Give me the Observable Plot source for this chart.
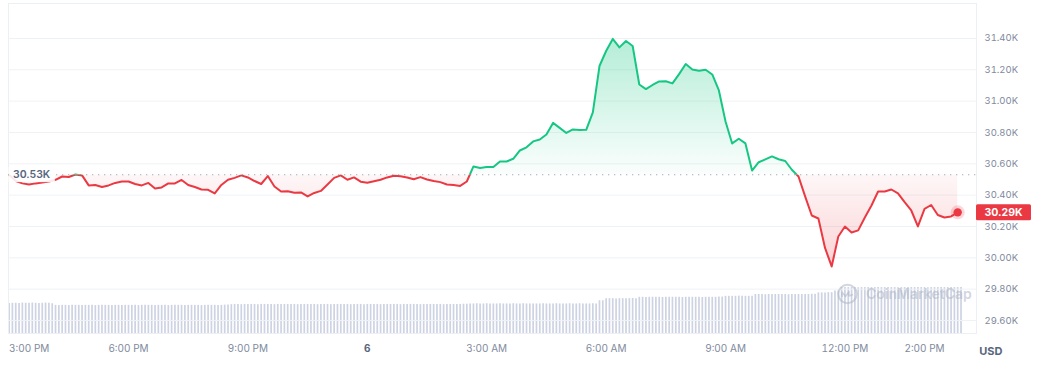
<!DOCTYPE html>
<html><head><meta charset="utf-8">
<script src="https://cdn.jsdelivr.net/npm/d3@7"></script>
<script src="https://cdn.jsdelivr.net/npm/@observablehq/plot@0.6"></script>
<style>
body{margin:0;background:#fff;font-family:Inter,"Noto Sans",sans-serif;}
#chart{position:relative;width:1048px;height:376px;overflow:hidden;}
#chart svg{position:absolute;left:0;top:0;}
</style></head><body><div id="chart"></div>
<script>
// ---- data ----
const startTime = new Date(2023, 6, 5, 15, 0);   // 3:00 PM
const priceStepMin = 10;
const prices = [
30530,30490,30475,30468,30475,30481,30487,30498,30519,30516,30532,30526,
30462,30465,30452,30462,30478,30487,30487,30471,30462,30478,30443,30449,
30475,30475,30497,30465,30452,30436,30434,30411,30465,30498,30510,30526,
30513,30490,30471,30522,30455,30423,30425,30415,30417,30392,30414,30427,
30468,30510,30526,30498,30513,30486,30479,30489,30498,30513,30524,30521,
30513,30501,30515,30500,30490,30483,30468,30465,30459,30487,30583,30573,
30580,30579,30615,30615,30632,30685,30705,30743,30755,30787,30861,30829,
30797,30819,30816,30817,30928,31224,31320,31397,31343,31384,31352,31106,
31077,31103,31126,31127,31113,31172,31237,31202,31194,31200,31170,31068,
30870,30730,30760,30730,30557,30610,30628,30647,30629,30618,30562,30519,
30392,30270,30251,30063,29945,30136,30200,30162,30175,30257,30334,30423,
30423,30436,30411,30355,30302,30200,30312,30337,30273,30257,30264,30290
];
const volumeStepMin = 5;
const volumes = [ // 24h volume, billions USD
13.0,13.1,13.1,13.0,13.2,13.1,13.1,13.2,13.1,13.0,13.1,13.2,13.1,12.9,
12.2,12.1,12.2,12.2,12.1,12.2,12.2,12.2,12.1,12.2,12.2,12.2,12.1,12.2,12.2,12.2,12.2,12.1,
12.2,12.2,12.1,12.2,12.2,12.2,12.2,12.1,12.2,12.2,12.2,12.2,12.1,12.2,12.2,12.2,12.1,12.2,
12.2,12.2,12.2,12.1,12.2,12.2,12.2,12.2,12.1,12.2,12.2,12.2,12.2,12.1,12.2,12.3,12.4,12.5,
12.6,12.6,12.5,12.6,12.6,12.6,12.6,12.5,12.6,12.6,12.6,12.6,12.5,12.6,12.6,12.6,12.6,12.6,
12.6,12.5,12.6,12.6,12.6,12.6,12.6,12.5,12.6,12.6,12.6,12.5,12.6,12.6,12.6,12.6,12.6,12.5,
12.6,12.6,12.6,12.5,12.6,12.6,12.6,12.6,12.5,12.6,12.6,12.6,12.6,12.6,12.5,12.6,12.6,12.6,
12.6,12.6,12.5,12.6,12.6,12.6,12.6,12.6,12.6,12.5,12.6,12.6,12.6,12.6,12.6,12.7,12.7,12.8,
12.8,12.9,12.8,12.8,12.9,12.8,12.8,12.8,12.9,12.8,12.8,12.8,12.9,12.8,12.8,12.9,12.8,12.8,12.8,
12.8,12.8,12.9,12.8,12.8,12.8,12.9,12.8,12.8,12.8,12.9,12.8,12.8,12.9,12.8,12.8,12.8,12.9,12.8,
14.2,14.2,
15.1,15.1,15.1,15.0,15.1,15.1,15.1,15.1,15.2,15.1,
15.7,15.7,15.6,15.7,15.7,15.7,15.7,15.6,15.7,15.7,15.7,15.7,15.7,
15.6,15.7,15.7,15.7,15.7,15.7,15.6,15.7,15.7,15.7,15.7,15.8,15.8,
16.1,16.1,16.1,16.1,16.2,16.1,16.1,16.1,16.1,
16.9,16.9,16.9,16.8,16.9,16.9,16.9,16.9,16.9,16.9,16.8,16.9,16.9,16.9,16.9,16.9,16.9,17.0,17.0,
17.6,17.6,17.6,17.7,17.7,
18.4,18.4,
19.9,19.9,19.9,19.9,19.9,19.8,19.9,19.9,19.9,19.9,19.9,19.9,19.9,19.9,19.9,19.9,19.9,19.8,19.9,
19.9,19.9,19.9,19.9,19.9,19.9,19.9,19.8,19.9,19.9,19.9,19.9,19.9,19.9,19.9,19.9,19.9,19.9
];
const referencePrice = 30530;
const yTicks = [29600, 29800, 30000, 30200, 30400, 30600, 30800, 31000, 31200, 31400];
const xTickTimes = [
  new Date(2023,6,5,15), new Date(2023,6,5,18), new Date(2023,6,5,21), new Date(2023,6,6,0),
  new Date(2023,6,6,3), new Date(2023,6,6,6), new Date(2023,6,6,9), new Date(2023,6,6,12), new Date(2023,6,6,14)
];
const xTickLabels = ["3:00 PM","6:00 PM","9:00 PM","6","3:00 AM","6:00 AM","9:00 AM","12:00 PM","2:00 PM"];
const currency = "USD";
const watermark = "CoinMarketCap";

// ---- build ----
const GREEN = "#16c784", RED = "#ea3943", GREY = "#808a9d", SLATE = "#58667e";
const fmtK = d => (d / 1000).toFixed(2) + "K";
const priceData = prices.map((price, i) => ({time: new Date(+startTime + i * priceStepMin * 60000), price}));
const volumeData = volumes.map((vol, i) => ({time: new Date(+startTime + i * volumeStepMin * 60000), vol}));
const lastPrice = prices[prices.length - 1];
const xDomain = [new Date(+startTime - 54000), new Date(+startTime + 87500000)];
const xLabel = d => xTickLabels[xTickTimes.findIndex(t => +t === +d)];

const common = {
  width: 1048, height: 376, marginLeft: 8, marginRight: 72, marginTop: 3, marginBottom: 43,
  style: {fontFamily: "Inter, 'Noto Sans', sans-serif", fontSize: "10px", background: "transparent", overflow: "visible"}
};

const volPlot = Plot.plot({
  ...common,
  x: {type: "time", domain: xDomain, axis: null},
  y: {domain: [0, 143], axis: null},
  marks: [
    Plot.ruleX(volumeData, {x: "time", y1: 0, y2: "vol", stroke: "#cdd3e2", strokeWidth: 1.7})
  ]
});

const mainPlot = Plot.plot({
  ...common,
  x: {type: "time", domain: xDomain, label: null},
  y: {domain: [29517, 31623], label: null},
  marks: [
    Plot.frame({stroke: "#eceff3"}),
    Plot.gridY(yTicks, {stroke: "#eff2f5", strokeOpacity: 1}),
    Plot.areaY(priceData, {x: "time", y1: () => referencePrice, y2: "price", fill: "url(#gradGreen)"}),
    Plot.areaY(priceData, {x: "time", y1: () => referencePrice, y2: "price", fill: "url(#gradRed)"}),
    Plot.ruleY([referencePrice], {stroke: "#a6acbd", strokeWidth: 1.2, strokeDasharray: "1.3,4.7"}),
    Plot.lineY(priceData, {x: "time", y: "price", stroke: GREEN, strokeWidth: 2}),
    Plot.lineY(priceData, {x: "time", y: "price", stroke: RED, strokeWidth: 2}),
    Plot.dot([priceData[priceData.length - 1]], {x: "time", y: "price", r: 7, fill: RED, fillOpacity: 0.2}),
    Plot.dot([priceData[priceData.length - 1]], {x: "time", y: "price", r: 4.2, fill: RED}),
    Plot.axisY(yTicks, {anchor: "right", label: null, tickSize: 0, tickPadding: 8, tickFormat: fmtK, fill: GREY, fontSize: 9.5}),
    Plot.axisX([xTickTimes[0]], {label: null, tickSize: 0, tickPadding: 11, tickFormat: xLabel, fill: GREY, textAnchor: "start", fontSize: 10}),
    Plot.axisX(xTickTimes.filter((d, i) => i > 0 && i !== 3), {label: null, tickSize: 0, tickPadding: 11, tickFormat: xLabel, fill: GREY, fontSize: 10}),
    Plot.axisX([xTickTimes[3]], {label: null, tickSize: 0, tickPadding: 11, tickFormat: xLabel, fill: SLATE, fontWeight: 700, fontSize: 10}),
    Plot.text([currency], {frameAnchor: "bottom-right", text: d => d, dx: 26, dy: 21, fill: SLATE, fontWeight: 700, fontSize: 11}),
    Plot.text([referencePrice], {y: d => d, frameAnchor: "left", text: fmtK, textAnchor: "start", dx: 4.5, fill: SLATE, fontWeight: 600, fontSize: 10.5}),
    Plot.text([lastPrice], {y: d => d, frameAnchor: "right", text: fmtK, textAnchor: "start", dx: 8, fill: "white", fontWeight: 700, fontSize: 10.5})
  ]
});

const chart = document.getElementById("chart");
chart.appendChild(volPlot);
chart.appendChild(mainPlot);

// ---- decorations: gradients, clipping at the reference price, label boxes, watermark ----
const svg = d3.select(mainPlot);
const ys = mainPlot.scale("y");
const xs = mainPlot.scale("x");
const yb = ys.apply(referencePrice);
const yTop = ys.apply(d3.max(prices));
const yBot = ys.apply(d3.min(prices));
const fL = xs.range[0], fR = xs.range[1];
const defs = svg.insert("defs", ":first-child");
const gG = defs.append("linearGradient").attr("id", "gradGreen").attr("gradientUnits", "userSpaceOnUse")
  .attr("x1", 0).attr("x2", 0).attr("y1", yTop).attr("y2", yb);
gG.append("stop").attr("offset", 0).attr("stop-color", GREEN).attr("stop-opacity", 0.32);
gG.append("stop").attr("offset", 1).attr("stop-color", GREEN).attr("stop-opacity", 0.02);
const gR = defs.append("linearGradient").attr("id", "gradRed").attr("gradientUnits", "userSpaceOnUse")
  .attr("x1", 0).attr("x2", 0).attr("y1", yb).attr("y2", yBot);
gR.append("stop").attr("offset", 0).attr("stop-color", RED).attr("stop-opacity", 0.04);
gR.append("stop").attr("offset", 1).attr("stop-color", RED).attr("stop-opacity", 0.22);
defs.append("clipPath").attr("id", "clipAbove").append("rect").attr("x", 0).attr("y", 0).attr("width", 1048).attr("height", yb);
defs.append("clipPath").attr("id", "clipBelow").append("rect").attr("x", 0).attr("y", yb).attr("width", 1048).attr("height", 376 - yb);
const lines = svg.selectAll('g[aria-label="line"]').nodes();
const areas = svg.selectAll('g[aria-label="area"]').nodes();
lines[0].setAttribute("clip-path", "url(#clipAbove)");
lines[1].setAttribute("clip-path", "url(#clipBelow)");
areas[0].setAttribute("clip-path", "url(#clipAbove)");
areas[1].setAttribute("clip-path", "url(#clipBelow)");

const svgBox = mainPlot.getBoundingClientRect();
svg.selectAll("text").each(function () {
  const t = this.textContent;
  if (t !== fmtK(referencePrice) && t !== fmtK(lastPrice)) return;
  const b = this.getBoundingClientRect();
  const g = this.parentNode;
  const cy = b.top - svgBox.top + b.height / 2;
  const rect = document.createElementNS("http://www.w3.org/2000/svg", "rect");
  if (t === fmtK(referencePrice)) {
    rect.setAttribute("x", fL + 0.5);
    rect.setAttribute("y", cy - 7.5);
    rect.setAttribute("width", b.right - svgBox.left + 4 - fL - 0.5);
    rect.setAttribute("height", 15);
    rect.setAttribute("fill", "white");
    rect.setAttribute("fill-opacity", 0.88);
  } else {
    rect.setAttribute("x", fR);
    rect.setAttribute("y", cy - 8);
    rect.setAttribute("width", b.right - svgBox.left + 8 - fR);
    rect.setAttribute("height", 16);
    rect.setAttribute("fill", RED);
    rect.setAttribute("rx", 1.5);
  }
  g.parentNode.insertBefore(rect, g);
});

// watermark
const wm = svg.append("g").attr("opacity", 0.55);
const cx = fR - 128.5, cyw = ys.range[0] - 39;
wm.append("circle").attr("cx", cx).attr("cy", cyw).attr("r", 9.2).attr("fill", "none").attr("stroke", "#aeb6c6").attr("stroke-width", 2);
wm.append("path").attr("d", `M${cx-5.5},${cyw+3} V${cyw-2} L${cx-2},${cyw+2.5} L${cx+1.5},${cyw-2.5} V${cyw+2} L${cx+5.5},${cyw+0.5}`)
  .attr("fill", "none").attr("stroke", "#aeb6c6").attr("stroke-width", 1.6).attr("stroke-linejoin", "round");
wm.append("text").attr("x", fR - 110).attr("y", cyw).attr("dy", "0.35em").attr("text-anchor", "start").attr("fill", "#aeb6c6")
  .attr("font-size", 14).attr("font-weight", 600).attr("font-family", "Inter, sans-serif").text(watermark);
</script></body></html>
